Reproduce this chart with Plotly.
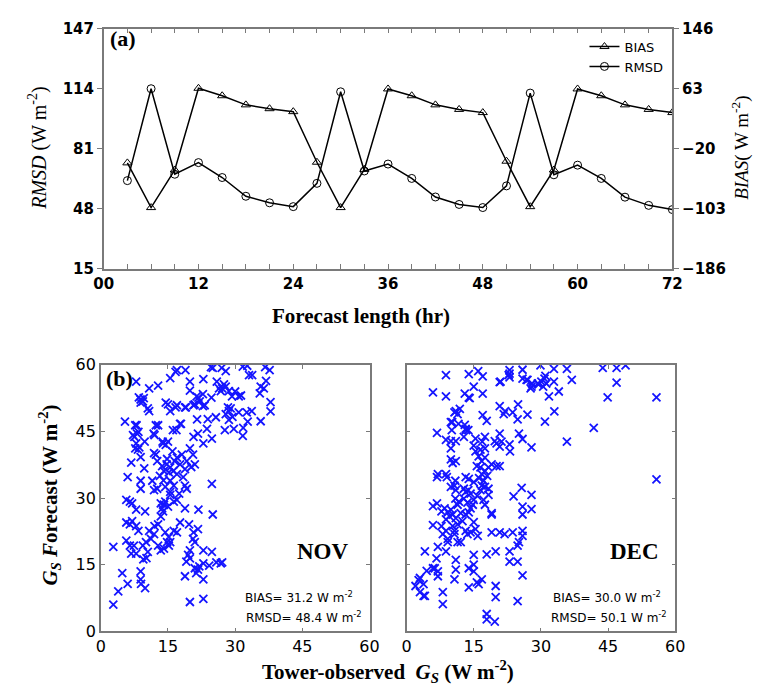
import plotly.graph_objects as go

# ---------------- Panel (a) data ----------------
hours = [3, 6, 9, 12, 15, 18, 21, 24, 27, 30, 33, 36, 39, 42, 45, 48, 51, 54, 57, 60, 63, 66, 69, 72]
rmsd = [63.5, 114, 67, 73.4, 65.2, 54.9, 51.3, 49.2, 62, 112.3, 68.8, 72.6,
        64.7, 54.5, 50.4, 48.7, 60.6, 111.6, 66.7, 72, 64.7, 54.4, 49.9, 47.6]
bias = [-39.5, -101.3, -49.3, 63.6, 53.3, 40.7, 35.4, 31.3, -38.6, -101.3, -48.5, 62.7,
        53.3, 40.7, 34.4, 30, -37.2, -100, -49.3, 62.7, 53.3, 40.7, 34.4, 30]
hour_ticks = [0, 12, 24, 36, 48, 60, 72]
hour_labels = ["00", "12", "24", "36", "48", "60", "72"]
rmsd_ticks = [15, 48, 81, 114, 147]
bias_ticks = [-186, -103, -20, 63, 146]

# ---------------- Panel (b) data: (tower-observed, forecast) ----------------
nov_points = [
    (17, 58.8), (18.9, 58.8), (15.5, 57), (16.7, 58.4), (25, 59.3), (24.6, 59.5), (27, 59.3), (27.9, 58.6),
    (31.7, 59.6), (32.7, 59.8), (33.1, 57.7), (33.8, 57.7), (36.7, 59.5), (37.7, 58.8), (36.9, 56.4),
    (19.9, 56.2), (22.9, 56.8), (25.9, 56.2), (19.9, 54.2), (10.8, 54.7), (12.8, 55.3), (7.9, 56.2),
    (8.9, 52.2), (8.5, 52.7), (9.4, 51.8), (8.9, 51.5), (9.6, 52.5), (10.8, 49.6), (10.5, 50.2),
    (15, 51.1), (17, 50.9), (15.5, 49.6), (19, 50.4), (21, 51.1), (21.8, 52.6), (22.8, 53.4), (23.2, 50.9),
    (24.7, 52.6), (25.7, 48.2), (23.9, 47.8), (21.5, 47.7), (27.1, 54.7), (26.4, 54.7), (27.9, 55.1),
    (28.6, 54.1), (26.8, 54.1), (27.5, 55.6), (30, 54), (31.3, 53.1), (28.6, 49.6), (27.9, 48.9),
    (29, 50.2), (28.4, 50.4), (29.4, 48.3), (28.6, 47.6), (30.8, 49.3), (32.6, 49.3), (33.7, 49.6),
    (35.7, 55.1), (35.5, 53.6), (36.4, 54.7), (37.9, 51.6), (37.9, 49.5), (35.7, 47.3), (31.8, 45.8),
    (32.8, 47.2), (31.7, 44.0), (29.7, 45.6), (27.7, 45.3), (24.8, 43.4), (22.9, 42.3), (23.7, 45.6),
    (21.7, 44.5), (17.7, 46.7), (16.9, 45.3), (16.1, 45.3), (12.8, 46.4), (11.8, 44.5), (14.5, 51.5),
    (16.7, 50.4), (18.8, 50.4), (20.7, 50.9), (22.8, 50.7), (21.4, 52.9), (22.1, 51.8), (29.3, 52.9),
    (30.8, 52.9), (20.7, 43.8), (17.9, 46.7), (12.3, 46.4), (12, 44.2),
    (5.4, 47.2), (7.7, 46.4), (8.1, 44.5), (7.5, 43.8), (8.4, 44.9), (7.9, 42.3), (8.6, 41.4), (7.7, 41.2),
    (8, 46.4), (7.2, 44.2), (8.3, 40.9), (9.8, 42.7), (6.8, 38), (8.9, 39.2), (9.7, 36.7), (6, 34.7),
    (8.9, 33.9), (8.9, 32.1), (11.5, 33.9),
    (11.9, 40.1), (13.9, 42.3), (15, 42.7), (12.3, 39.8), (13.8, 42.7), (14.5, 42), (12.6, 38.3),
    (13.7, 37.2), (14.7, 37.6), (15.5, 36.9), (14.1, 36.1), (15.2, 35.8), (16.2, 36.1), (17, 39.1),
    (18.1, 39.8), (19.2, 38.3), (17.7, 37.6), (17, 35.4), (18.4, 34.7), (19.9, 41.2), (20.6, 39.8),
    (21, 37.6), (20.2, 37.0), (15.5, 33.9), (16.3, 32.8), (15.5, 31.4), (14.4, 32.5), (12.6, 32.1),
    (11.9, 31.8), (18.8, 32.8), (19.2, 32.1), (15.5, 30.7), (16.3, 29.2), (17, 29.6), (13.4, 28.8),
    (14.1, 28.5), (14.4, 29.2), (13.7, 27.7), (15, 28.1), (18.8, 27.7), (21.8, 27.4), (25, 26.3),
    (24.8, 33.2), (14.8, 38.8), (16.5, 38.3), (13.2, 35), (18.8, 36.5), (16, 40.5), (14, 34), (17.5, 31),
    (5.7, 29.6), (6.5, 29.2), (7, 28.8), (7.9, 27.4), (9.9, 27), (5.7, 24.5), (6.5, 24.1), (7, 24.8),
    (7.9, 23.7), (8.4, 22.6), (10.8, 22.6), (12, 23.7), (12.8, 24.1), (13.4, 25.9), (13.9, 27),
    (5.7, 20.4), (6.5, 19.3), (7.4, 19.3), (6.8, 17.5), (7.9, 17.5), (9.4, 19.3), (10.1, 20.1),
    (10.5, 17.9), (11.2, 20.8), (11.9, 21.9), (12.8, 19.3), (13.4, 18.2), (14.1, 18.6), (14.4, 22.3),
    (15.2, 21.2), (15.5, 20.1), (14.8, 20.1), (15.2, 19.3), (16.3, 22.6), (17, 22.3), (17.7, 24.5),
    (19.7, 24.1), (20.7, 22.3), (21.7, 23), (20.6, 20.8), (21, 20.1), (19.9, 18.2), (19.5, 17.2),
    (19.9, 16.4), (19.1, 15.7), (22.9, 18.2), (24.8, 17.9), (21, 14.2), (21.7, 13.9), (21.3, 13.1),
    (22, 14.6), (22.9, 15.3), (24.2, 14.8), (22.9, 11.7), (25.8, 15.5), (26.8, 15.3), (27.1, 15.5),
    (18.8, 12.4), (19.9, 6.6), (22.9, 7.3), (2.8, 19), (4.8, 13.1), (3.9, 9), (2.8, 6), (6, 10.7),
    (8.9, 13.5), (8.9, 11.7), (9, 10.7), (9.9, 9.7), (9.5, 16.2), (10.2, 16.5),
]
dec_points = [
    (8.8, 57.7), (13.9, 57.9), (16, 58.6), (17, 57.4), (15, 55.1), (5.9, 53.8), (8.8, 52.9), (13, 53.5),
    (13.9, 52.6), (17, 53.5), (20.8, 56.1), (23, 58.8), (23, 58), (23, 57.2), (25.9, 58.9), (25.9, 56.9),
    (27, 56.6), (28, 55.8), (27.7, 54.7), (29.9, 59.9), (30.1, 56.2), (30.8, 56.9), (31.2, 55.8),
    (30.5, 55.1), (29.5, 55.6), (31, 57.5), (29.3, 55.8), (32.9, 59.1), (32.9, 56.2), (31.8, 52.9),
    (34, 54), (35.8, 59.1), (36.9, 56.6), (43.8, 59.3), (46.9, 59.3), (48.9, 59.9), (46.9, 56),
    (44.9, 52.7), (55.8, 52.7), (41.8, 45.8), (35.8, 42.7), (33, 49.5), (30.9, 47.2), (27, 48.8),
    (24.9, 51.1), (23.7, 49.3), (22, 49.6), (21.7, 48.9), (20.8, 50.7), (24.8, 47.7), (17, 48.7),
    (17.9, 47.4), (11, 49.6), (11.9, 50.1), (11.4, 48.9), (10.7, 49.3), (9.9, 47.1), (10.1, 45.3),
    (13, 46.5), (13.3, 45.3), (12.8, 43.8), (13.2, 45.6), (6.8, 44.7), (8.8, 43.1), (9.9, 42.8),
    (11, 42.8), (9.9, 41.2), (15, 41.8), (15.4, 43.4), (17.5, 43.8), (16.9, 42.7), (19.7, 42.8),
    (20.8, 44.5), (21.2, 42.7), (20.8, 41.6), (20.1, 42.3), (23, 42.1), (23.1, 40.5), (25.1, 44.5),
    (25.9, 43.3), (27.9, 41.4), (14.1, 52.5), (21, 56.2), (26.8, 56.6), (27.9, 55.1), (22.8, 57.7),
    (10.2, 47.1), (11.6, 46.7), (13.8, 45.3),
    (15.4, 40.5), (16.5, 40.9), (17.5, 41.2), (16.1, 39.4), (17.5, 39.1), (16.8, 38.3), (15.7, 37.2),
    (16.5, 36.9), (17.5, 36.1), (16.8, 35.4), (18.3, 36.9), (19, 37.6), (20.1, 37.2), (20.8, 37.2),
    (17.2, 33.9), (16.8, 32.8), (17.5, 32.5), (16.5, 31.8), (18.3, 32.1), (18.3, 30.7), (17.2, 29.6),
    (17.5, 28.5), (19, 26.6), (18, 35), (16.2, 34.5), (15.8, 30.5),
    (11, 38.3), (9.9, 38.7), (10.3, 37.9), (7, 35.4), (6.8, 34.7), (8.8, 35.4), (9, 34.7), (10.9, 33.9),
    (9.9, 32.5), (10.7, 32.8), (11, 31.8), (13.2, 34.7), (13.9, 34.3), (15, 33.6), (12.8, 32.1),
    (13.8, 31.8), (14.3, 31), (13.2, 31.4), (10.9, 29.9), (11.7, 29.2), (11.4, 28.5), (12.8, 29.9),
    (13.6, 29), (14.8, 28.5), (14.3, 27.7), (13.9, 26.8), (15, 29.6), (5.9, 28.2), (6.8, 28.8),
    (7.8, 27), (8.5, 27.7), (9.2, 26.8), (9.9, 27.4), (9.6, 25.9), (10.3, 26.3), (8.8, 25.2), (11, 25.5),
    (12.1, 26.6), (13.2, 26.3), (12.5, 24.8), (11.4, 24.1), (10.3, 23.7), (10.7, 22.6),
    (5.9, 23.9), (7.8, 23.7), (8.8, 22.6), (8.1, 21.9), (9.2, 20.8), (10.7, 21.9), (11.4, 20.1),
    (12.1, 20.1), (13.2, 22.6), (13.6, 21.9), (14.3, 22.3), (15.4, 23), (15, 24.6), (15.9, 21.5),
    (19, 22.3), (20.8, 22.3), (21.9, 21.9), (23.7, 22.3), (25.9, 22.6), (25.9, 21.5), (25.1, 20.1),
    (24.8, 19.3), (23.9, 30.4), (25.9, 28.1), (25.9, 26.3), (27.9, 30.7), (27.9, 27.5), (25.7, 32.3),
    (19, 26.3), (4.1, 18), (7, 19), (8.8, 18), (9.2, 20.1), (6.7, 16.4), (5.9, 14.2), (6.3, 14.2),
    (7, 13.5), (7, 12.4), (4.5, 13.6), (11, 16.1), (11, 13.9), (10.7, 11.7), (13.9, 14.2), (15, 15),
    (15, 13.5), (13.9, 9.9), (15.7, 11), (16.8, 11.7), (16.1, 10.6), (15, 17.2), (17.9, 17.3),
    (19.9, 18), (23, 18), (23, 15.7), (24.8, 15.7), (25.9, 12.6), (19.9, 10.2), (19.9, 7.7), (24.8, 6.8),
    (17.9, 3.9), (17.9, 2.7), (19.7, 2.2), (3, 12), (2.7, 11.5), (3.8, 10.6), (2, 10.2), (3, 8.8),
    (3.8, 8), (4.1, 8), (8.1, 8.8), (8.1, 6.1), (55.8, 34.2),
]
scatter_ticks = [0, 15, 30, 45, 60]

nov_obs = [p[0] for p in nov_points]
nov_fcst = [p[1] for p in nov_points]
dec_obs = [p[0] for p in dec_points]
dec_fcst = [p[1] for p in dec_points]

SANS = "DejaVu Sans"
SERIF = "Liberation Serif"
AXC = "#7a7a7a"

fig = go.Figure()

fig.add_trace(go.Scatter(
    x=hours, y=bias, name="BIAS", mode="lines+markers", yaxis="y2", xaxis="x",
    line=dict(color="black", width=1.5),
    marker=dict(symbol="triangle-up-open", size=8, color="black", line=dict(width=1))))
fig.add_trace(go.Scatter(
    x=hours, y=rmsd, name="RMSD", mode="lines+markers", yaxis="y", xaxis="x",
    line=dict(color="black", width=1.5),
    marker=dict(symbol="circle-open", size=8, color="black", line=dict(width=1))))

xmark = dict(symbol="x-thin", size=8, color="#0000ff", line=dict(color="#1515ff", width=1.8))
fig.add_trace(go.Scatter(x=nov_obs, y=nov_fcst, mode="markers", xaxis="x2", yaxis="y3",
                         marker=xmark, showlegend=False, name="NOV"))
fig.add_trace(go.Scatter(x=dec_obs, y=dec_fcst, mode="markers", xaxis="x3", yaxis="y4",
                         marker=xmark, showlegend=False, name="DEC"))

axis_common = dict(showgrid=False, zeroline=False, showline=True, linecolor=AXC, linewidth=1.5,
                   tickcolor=AXC)

ya_top, ya_bot = 1 - 12 / 690, 1 - 259 / 690
yb_top, yb_bot = 1 - 357.7 / 690, 1 - 631.7 / 690
fa = dict(family=SANS, size=15, color="black", weight="bold")
fb = dict(family=SANS, size=16, color="black")

fig.update_layout(
    width=762, height=690, margin=dict(l=0, r=0, t=0, b=0),
    paper_bgcolor="white", plot_bgcolor="white",
    xaxis=dict(domain=[88 / 762, 672 / 762], range=[0, 72], tickmode="array",
               tickvals=hour_ticks, ticktext=hour_labels, ticks="inside", ticklen=5,
               mirror="ticks", anchor="y", tickfont=fa,
               minor=dict(dtick=3, tick0=0, ticks="inside", ticklen=5, tickcolor=AXC, showgrid=False),
               **axis_common),
    yaxis=dict(domain=[ya_bot, ya_top], range=[15, 147], tickmode="array", tickvals=rmsd_ticks,
               ticks="outside", ticklen=5, anchor="x", tickfont=fa, **axis_common),
    yaxis2=dict(range=[-186, 146], tickmode="array", tickvals=bias_ticks, overlaying="y",
                side="right", anchor="x", ticks="outside", ticklen=5, tickfont=fa, **axis_common),
    xaxis2=dict(domain=[85 / 762, 361 / 762], range=[0, 60], tickmode="array",
                tickvals=scatter_ticks, ticks="inside", ticklen=4, mirror="ticks", anchor="y3",
                tickfont=fb, **axis_common),
    yaxis3=dict(domain=[yb_bot, yb_top], range=[0, 60], tickmode="array",
                tickvals=scatter_ticks, ticks="inside", ticklen=4, mirror="ticks", anchor="x2",
                tickfont=fb, **axis_common),
    xaxis3=dict(domain=[399 / 762, 675 / 762], range=[0, 60], tickmode="array",
                tickvals=scatter_ticks, ticks="inside", ticklen=4, mirror="ticks", anchor="y4",
                tickfont=fb, **axis_common),
    yaxis4=dict(domain=[yb_bot, yb_top], range=[0, 60], tickmode="array",
                tickvals=scatter_ticks, ticks="inside", ticklen=4, mirror="ticks", anchor="x3",
                showticklabels=False, **axis_common),
    legend=dict(x=668 / 762, y=1 - 15 / 690, xanchor="right", yanchor="top",
                bgcolor="rgba(0,0,0,0)", font=dict(family=SANS, size=13, color="black"),
                itemwidth=30, tracegroupgap=0),
    showlegend=True,
)

ann = []
def add(text, x, y, size, family=SERIF, angle=0, xanchor="center", yanchor="middle", bold=False):
    ann.append(dict(text=text, x=x / 762, y=1 - y / 690, xref="paper", yref="paper",
                    showarrow=False, textangle=angle, xanchor=xanchor, yanchor=yanchor,
                    font=dict(family=family, size=size, color="black",
                              weight="bold" if bold else "normal")))

add("(a)", 92, 22, 22, xanchor="left", bold=True)
add("<i>RMSD</i> (W m<sup>-2</sup>)", 20, 135, 20, angle=-90)
add("<i>BIAS</i>( W m<sup>-2</sup>)", 742, 135, 19, angle=-90)
add("Forecast length (hr)", 352, 307, 21, bold=True)
add("(b)", 88, 372, 22, xanchor="left", bold=True)
add("<i>G<sub>S</sub> F</i>orecast (W m<sup>-2</sup>)", 32, 492, 21, angle=-90, bold=True)
add("Tower-observed  <i>G<sub>S</sub></i> (W m<sup>-2</sup>)", 380, 673, 21, bold=True)
add("NOV", 342, 550, 23, xanchor="right", bold=True)
add("DEC", 660, 550, 23, xanchor="right", bold=True)
add("BIAS= 31.2 W m<sup>-2</sup>", 346, 596, 12, family=SANS, xanchor="right")
add("RMSD= 48.4 W m<sup>-2</sup>", 355, 617, 12, family=SANS, xanchor="right")
add("BIAS= 30.0 W m<sup>-2</sup>", 662, 596, 12, family=SANS, xanchor="right")
add("RMSD= 50.1 W m<sup>-2</sup>", 669, 617, 12, family=SANS, xanchor="right")
fig.update_layout(annotations=ann)

fig.write_html("out.html")
